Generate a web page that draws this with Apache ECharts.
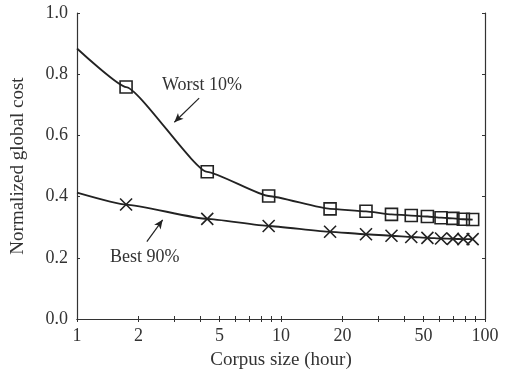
<!DOCTYPE html>
<html>
<head>
<meta charset="utf-8">
<script src="https://cdn.jsdelivr.net/npm/echarts@6/dist/echarts.min.js"></script>
<style>
  html, body { margin: 0; padding: 0; background: #fff; }
  #chart { width: 507px; height: 371px; }
</style>
</head>
<body>
<div id="chart"></div>
<script>
// corpus size (hour)
var corpusSize = [1.74, 4.35, 8.7, 17.4, 26.1, 34.8, 43.5, 52.2, 60.9, 69.6, 78.3, 87]
// normalized global cost
var worstCost = [0.758, 0.481, 0.402, 0.360, 0.352, 0.342, 0.338, 0.335, 0.331, 0.329, 0.326, 0.325]
var bestCost = [0.374, 0.327, 0.304, 0.285, 0.277, 0.272, 0.268, 0.265, 0.263, 0.262, 0.261, 0.261]
// curves start at x = 1 without a marker
var worstStart = 0.884
var bestStart = 0.413
var xLabels = [1, 2, 5, 10, 20, 50, 100]
var xTicks = [1, 2, 3, 4, 5, 6, 7, 8, 9, 10, 20, 30, 40, 50, 60, 70, 80, 90, 100]

var ink = '#222'
var font = 'Liberation Serif'

function buildData (start, vals) {
  var out = [{ value: [1, start], symbol: 'none' }]
  vals.forEach(function (v, i) {
    out.push([corpusSize[i], v])
  })
  return out
}

var chart = echarts.init(document.getElementById('chart'))
var option = {
  animation: false,
  backgroundColor: '#fff',
  grid: { left: 77, right: 22, top: 13, bottom: 52, outerBoundsMode: 'none', containLabel: false },
  xAxis: [
    {
      type: 'log',
      logBase: 10,
      min: 1,
      max: 100,
      name: 'Corpus size (hour)',
      nameLocation: 'middle',
      nameGap: 32,
      nameTextStyle: { fontFamily: font, fontSize: 19, color: '#333' },
      axisLine: { lineStyle: { color: '#333', width: 1.2 } },
      axisTick: { inside: true, length: 3, customValues: xTicks, lineStyle: { color: '#333' } },
      axisLabel: { customValues: xLabels, fontFamily: font, fontSize: 18, color: '#333', margin: 8 },
      splitLine: { show: false }
    },
    {
      type: 'log',
      logBase: 10,
      min: 1,
      max: 100,
      position: 'top',
      axisLine: { lineStyle: { color: '#333', width: 1.2 } },
      axisTick: { inside: true, length: 3, customValues: xTicks, lineStyle: { color: '#333' } },
      axisLabel: { show: false },
      splitLine: { show: false }
    }
  ],
  yAxis: [
    {
      type: 'value',
      min: 0,
      max: 1,
      interval: 0.2,
      name: 'Normalized global cost',
      nameLocation: 'middle',
      nameGap: 49,
      nameTextStyle: { fontFamily: font, fontSize: 19, color: '#333' },
      axisLine: { show: true, lineStyle: { color: '#333', width: 1.2 } },
      axisTick: { show: true, inside: true, length: 3, lineStyle: { color: '#333' } },
      axisLabel: {
        fontFamily: font, fontSize: 18, color: '#333', margin: 9,
        formatter: function (v) { return v.toFixed(1) }
      },
      splitLine: { show: false }
    },
    {
      type: 'value',
      min: 0,
      max: 1,
      interval: 0.2,
      position: 'right',
      axisLine: { show: true, lineStyle: { color: '#333', width: 1.2 } },
      axisTick: { show: true, inside: true, length: 3, lineStyle: { color: '#333' } },
      axisLabel: { show: false },
      splitLine: { show: false }
    }
  ],
  series: [
    {
      name: 'Worst 10%',
      type: 'line',
      smooth: 0.15,
      smoothMonotone: 'x',
      data: buildData(worstStart, worstCost),
      symbol: 'rect',
      symbolSize: 12,
      lineStyle: { color: ink, width: 1.8 },
      itemStyle: { color: 'rgba(0,0,0,0)', borderColor: ink, borderWidth: 1.6 },
      markLine: {
        silent: true,
        symbol: ['none', 'arrow'],
        symbolSize: [6, 9],
        label: { show: false },
        lineStyle: { color: ink, width: 1.2, type: 'solid' },
        data: [[{ coord: [3.97, 0.722] }, { coord: [3.0, 0.643] }]]
      }
    },
    {
      name: 'Best 90%',
      type: 'line',
      smooth: 0.15,
      smoothMonotone: 'x',
      data: buildData(bestStart, bestCost),
      symbol: 'path://M0,0L10,10M10,0L0,10',
      symbolSize: 12,
      lineStyle: { color: ink, width: 1.8 },
      itemStyle: { color: ink, borderColor: ink, borderWidth: 1.6 },
      markLine: {
        silent: true,
        symbol: ['none', 'arrow'],
        symbolSize: [6, 9],
        label: { show: false },
        lineStyle: { color: ink, width: 1.2, type: 'solid' },
        data: [[{ coord: [2.2, 0.253] }, { coord: [2.63, 0.324] }]]
      }
    }
  ],
  graphic: [
    {
      type: 'text',
      left: 162,
      top: 76,
      style: { text: 'Worst 10%', font: '18px "Liberation Serif"', fill: '#333' }
    },
    {
      type: 'text',
      left: 110,
      top: 248,
      style: { text: 'Best 90%', font: '18px "Liberation Serif"', fill: '#333' }
    }
  ]
}
chart.setOption(option)
</script>
</body>
</html>
